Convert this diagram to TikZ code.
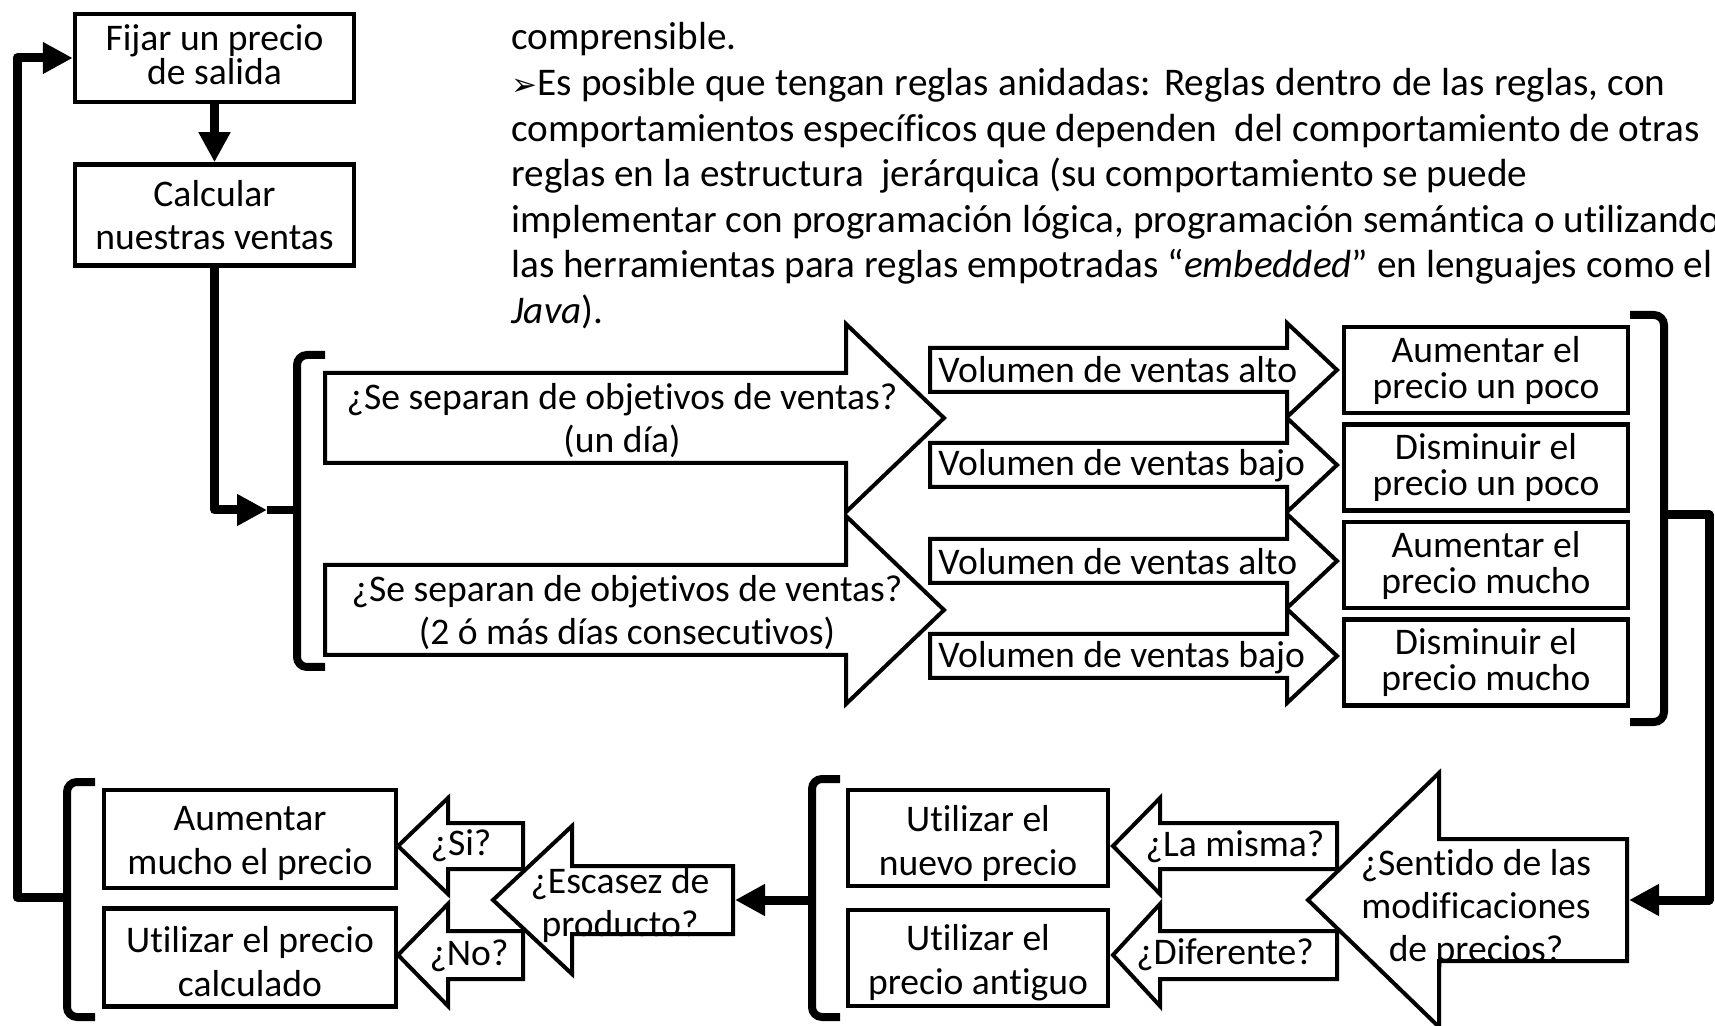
\documentclass[tikz,border=0pt]{standalone}
\usepackage{fontspec}
\setmainfont{Carlito}[Ligatures=NoCommon]
\newfontfamily\dejavu{DejaVu Sans}
\usetikzlibrary{arrows.meta}
\newcommand\blockarrow[6]{%
  \filldraw[shapestyle] ({#1},{#4-#5}) -- ({#2},{#4-#5}) -- ({#2},{#4-#6}) -- ({#3},{#4}) -- ({#2},{#4+#6}) -- ({#2},{#4+#5}) -- ({#1},{#4+#5}) -- cycle;}
\tikzset{
  shapestyle/.style={draw=black, fill=white, line width=2pt, line join=miter},
  boxstyle/.style={draw=black, fill=white, line width=2.25pt, inner sep=0pt, align=center},
  lbl/.style={inner sep=0pt, align=center},
  conn/.style={line width=4.5pt, line join=round},
  arr/.style={conn, -{Triangle[length=15pt,width=15pt]}},
  brk/.style={line width=4pt, rounded corners=5pt},
  toptext/.style={anchor=base west, inner sep=0pt, font=\fontsize{19.6}{22}\selectfont},
  txt/.style={inner sep=0pt, align=center},
}
\begin{document}
\begin{tikzpicture}[x=0.5pt, y=-0.5pt, every node/.style={font=\fontsize{18.8}{21.5}\selectfont}]
\useasboundingbox (0,0) rectangle (1715,1026);
\fill[white] (0,0) rectangle (1715,1026);
\clip (0,0) rectangle (1715,1026);

% ---- top text ----
\node[toptext] (t1) at (511,50) {comprensible.};
\node[toptext] (t2) at (511,96) {\makebox[577pt][s]{{\dejavu\fontsize{15.5}{18}\selectfont ➢}Es posible que tengan reglas anidadas: Reglas dentro de las reglas, con}};
\node[toptext] (t3) at (511,142) {comportamientos específicos que dependen\ \ del comportamiento de otras};
\node[toptext] (t4) at (511,187) {reglas en la estructura\ \ jerárquica (su comportamiento se puede};
\node[toptext] (t5) at (511,233) {implementar con programación lógica, programación semántica o utilizando};
\node[toptext] (t6) at (511,278) {las herramientas para reglas empotradas “\textit{embedded}” en lenguajes como el};
\node[toptext] (t7) at (511,324) {\textit{Java}).};

% ---- brackets ----
\draw[brk] (325,355) -- (297,355) -- (297,667) -- (325,667);
\draw[brk] (297,510) -- (267,510);
\draw[brk] (1630,315) -- (1664,315) -- (1664,722) -- (1630,722);
\draw[brk] (840,779) -- (812,779) -- (812,1017) -- (840,1017);
\draw[brk] (95,782) -- (67,782) -- (67,1017) -- (95,1017);

\coordinate (lb1nub) at (267,510);
\coordinate (rbnub) at (1664,515);
\coordinate (rcorner) at (1709,515);
\coordinate (lb2nub) at (812,900);
\coordinate (lb3nub) at (67,897);
\coordinate (lcorner) at (17,897);
\coordinate (Sr) at (1629,900);
\coordinate (Er) at (735,900);

% ---- medium right arrows ----
\blockarrow{930}{1287}{1337}{370}{22}{47}
\blockarrow{930}{1287}{1337}{465}{22}{47}
\blockarrow{930}{1287}{1337}{561}{22}{47}
\blockarrow{930}{1287}{1337}{656}{22}{47}
% ---- big right arrows ----
\blockarrow{325}{846}{944}{418}{45}{94}
\blockarrow{325}{846}{944}{610}{45}{94}
% ---- small left arrows ----
\blockarrow{1337}{1160}{1113}{846}{23}{48}
\blockarrow{1337}{1160}{1113}{955}{24}{51}
\blockarrow{523}{448}{398}{846}{23}{48}
\blockarrow{523}{448}{398}{955}{24}{51}
% ---- big left arrows ----
\blockarrow{1627}{1439}{1308}{900}{61}{127}
\blockarrow{733}{572}{493}{900}{34}{74}

% ---- boxes ----
\node[boxstyle, minimum width=139.5pt, minimum height=44pt] (A) at (214.5,58) {};
\node[txt, font=\fontsize{18.8}{17}\selectfont] (At) at (214.5,55) {Fijar un precio\\de salida};
\node[boxstyle, minimum width=139.5pt, minimum height=50.5pt] (B) at (214.5,215) {Calcular\\nuestras ventas};
\node[boxstyle, minimum width=142pt, minimum height=43pt, font=\fontsize{18.8}{18}\selectfont] (R1) at (1486,370) {Aumentar el\\precio un poco};
\node[boxstyle, minimum width=142pt, minimum height=43pt, font=\fontsize{18.8}{18}\selectfont] (R2) at (1486,467.5) {Disminuir el\\precio un poco};
\node[boxstyle, minimum width=142pt, minimum height=43pt, font=\fontsize{18.8}{18}\selectfont] (R3) at (1486,565) {Aumentar el\\precio mucho};
\node[boxstyle, minimum width=142pt, minimum height=43pt, font=\fontsize{18.8}{18}\selectfont] (R4) at (1486,662.5) {Disminuir el\\precio mucho};
\node[boxstyle, minimum width=130pt, minimum height=48pt] (U1) at (978,838) {};
\node[boxstyle, minimum width=130pt, minimum height=48pt] (U2) at (978,958) {};
\node[boxstyle, minimum width=146pt, minimum height=49pt] (M1) at (250,839) {};
\node[boxstyle, minimum width=146pt, minimum height=49pt] (M2) at (250,957.5) {};
\node[txt, font=\fontsize{18.8}{22}\selectfont] (U1t) at (978,843) {Utilizar el\\nuevo precio};
\node[txt, font=\fontsize{18.8}{22}\selectfont] (U2t) at (978,963) {Utilizar el\\precio antiguo};
\node[txt, font=\fontsize{18.8}{22}\selectfont] (M1t) at (250,843) {Aumentar\\mucho el precio};
\node[txt, font=\fontsize{18.8}{22}\selectfont] (M2t) at (250,962) {Utilizar el precio\\calculado};

% ---- arrow labels ----
\node[lbl] (q1) at (622,421) {¿Se separan de objetivos de ventas?\\(un día)};
\node[lbl] (q2) at (627,613) {¿Se separan de objetivos de ventas?\\(2 ó más días consecutivos)};
\node[lbl, anchor=west] (v1) at (938,370) {Volumen de ventas alto};
\node[lbl, anchor=west] (v2) at (938,466) {Volumen de ventas bajo};
\node[lbl, anchor=west] (v3) at (938,562) {Volumen de ventas alto};
\node[lbl, anchor=west] (v4) at (938,658) {Volumen de ventas bajo};
\node[lbl] (s) at (1476,908) {¿Sentido de las\\modificaciones\\de precios?};
\node[lbl] (lm) at (1235,847) {¿La misma?};
\node[lbl] (df) at (1225,955) {¿Diferente?};
\node[lbl] (e) at (620,905) {¿Escasez de\\producto?};
\node[lbl] (si) at (461,846) {¿Si?};
\node[lbl] (no) at (469,956) {¿No?};

% ---- connectors ----
\draw[arr] (A.south) -- (B.north);
\draw[arr] (B.south) |- (lb1nub);
\draw[arr] (rbnub) -- (rcorner) |- (Sr);
\draw[arr] (lb2nub) -- (Er);
\draw[arr] (lb3nub) -- (lcorner) |- (A.west);
\end{tikzpicture}
\end{document}
